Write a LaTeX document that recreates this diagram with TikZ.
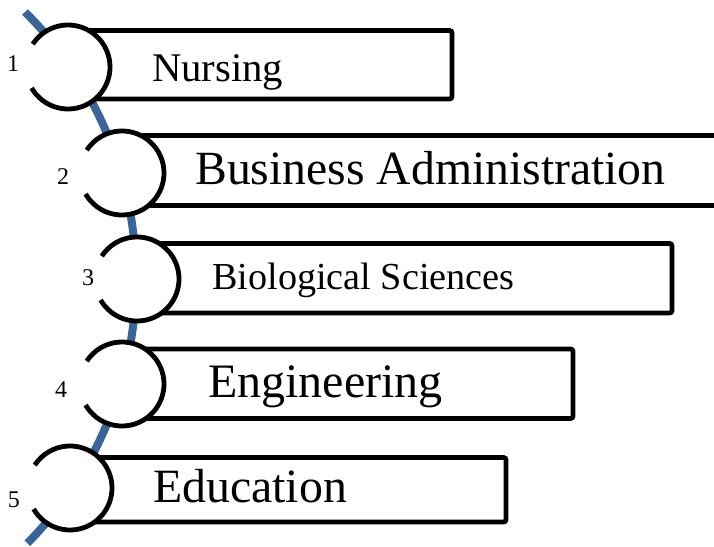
\documentclass[tikz,border=0pt]{standalone}
\usepackage{fontspec}
\setmainfont{Liberation Serif}
\definecolor{spine}{RGB}{58,101,152}
\begin{document}
\begin{tikzpicture}[x=1pt,y=-1pt,
  barbox/.style={draw=black,line width=4.8pt,rounded corners=2.5pt,fill=white},
  ring/.style={draw=black,line width=4.8pt},
  disc/.style={circle,fill=white,minimum size=84pt,inner sep=0pt},
  numlabel/.style={font=\fontsize{24}{28}\selectfont,inner sep=0pt},
  lbl/.style={anchor=base west,inner sep=0pt}]
\useasboundingbox (0,0) rectangle (714,546);
\clip (0,0) rectangle (714,546);
\fill[white] (0,0) rectangle (714,546);
% spine
\coordinate (sA) at (25,12);
\draw[spine,line width=8pt] (sA) arc[start angle=45.2,end angle=-44.7,radius=376pt];
% bars
\draw[barbox] (68,30.5) rectangle (452,99);
\draw[barbox] (122,135.5) rectangle (722,205.5);
\draw[barbox] (136,243.5) rectangle (672,313);
\draw[barbox] (122,349) rectangle (573,418.5);
\draw[barbox] (70,457.5) rectangle (506,522);
% discs
\node[disc] (c1) at (68,67) {};
\node[disc] (c2) at (122,173) {};
\node[disc] (c3) at (137,279) {};
\node[disc] (c4) at (122,384) {};
\node[disc] (c5) at (70,488) {};
\foreach \c in {c1,c2,c3,c4,c5}{
  \draw[ring] ([shift={(210:42pt)}]\c.center) arc[start angle=210,end angle=507,radius=42pt];
}
% numbers
\node[numlabel] (n1) at (13,64) {1};
\node[numlabel] (n2) at (63,177) {2};
\node[numlabel] (n3) at (88,278) {3};
\node[numlabel] (n4) at (61,390) {4};
\node[numlabel] (n5) at (14,500) {5};
% labels
\node[lbl,font=\fontsize{40.7}{46}\selectfont] (t1) at (152,81) {Nursing};
\node[lbl,font=\fontsize{47.7}{54}\selectfont] (t2) at (195,184) {Business Administration};
\node[lbl,font=\fontsize{38.2}{44}\selectfont] (t3) at (212,289) {Biological Sciences};
\node[lbl,font=\fontsize{48}{54}\selectfont] (t4) at (208,397) {Engineering};
\node[lbl,font=\fontsize{47.8}{54}\selectfont] (t5) at (153,502) {Education};
\end{tikzpicture}
\end{document}
